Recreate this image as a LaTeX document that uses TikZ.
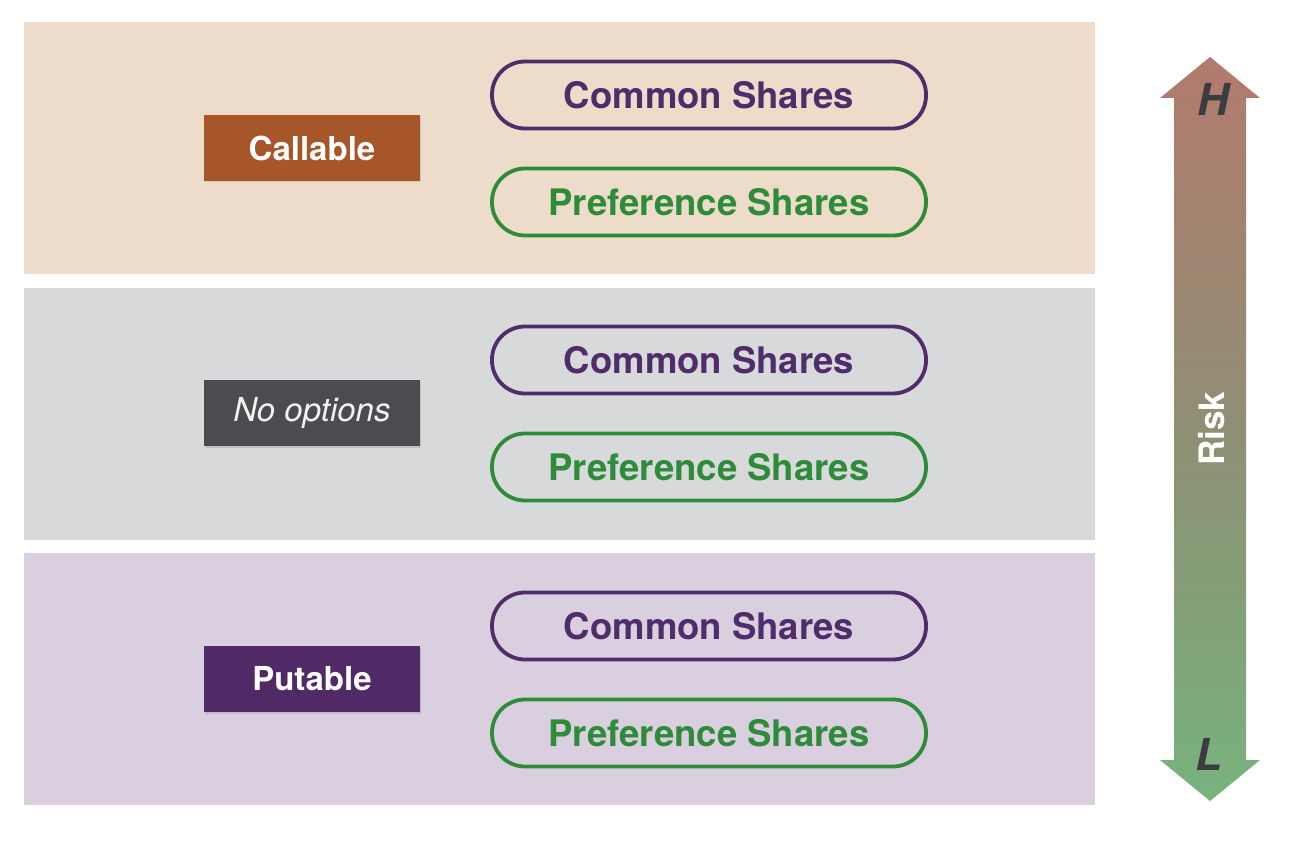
\documentclass[tikz,border=0pt]{standalone}
\usepackage{fontspec}
\setmainfont{TeX Gyre Heros}
\usetikzlibrary{shadows}
\definecolor{bandA}{HTML}{EEDCCB}
\definecolor{bandB}{HTML}{D8D9DA}
\definecolor{bandC}{HTML}{D9CFDF}
\definecolor{callc}{HTML}{A65628}
\definecolor{noc}{HTML}{4A4C50}
\definecolor{putc}{HTML}{4F2A66}
\definecolor{purp}{HTML}{4F2D6B}
\definecolor{grn}{HTML}{2E8B3A}
\definecolor{arrtop}{HTML}{B27A6D}
\definecolor{arrmid}{HTML}{8F8F74}
\definecolor{arrbot}{HTML}{77B37D}
\definecolor{letc}{HTML}{3A3C40}
\tikzset{
  band/.style={fill=#1, draw=none},
  labelbox/.style={fill=#1, draw=none, minimum width=216pt, minimum height=66pt,
    text=white, inner sep=0pt, drop shadow={opacity=0.25, shadow xshift=1pt, shadow yshift=-1.5pt}},
  pill/.style={draw=#1, line width=3.8pt, rounded corners=33pt, minimum width=434pt,
    minimum height=67pt, text=#1, inner sep=0pt, font=\fontsize{36.5}{42}\selectfont\bfseries},
}
\begin{document}
\begin{tikzpicture}[x=1pt,y=-1pt]
\useasboundingbox[fill=white] (0,0) rectangle (1290,842);
% bands
\fill[band=bandA] (24,22) rectangle (1095,274);
\fill[band=bandB] (24,288) rectangle (1095,540);
\fill[band=bandC] (24,553) rectangle (1095,805);
% labels
\node[labelbox=callc, font=\fontsize{33}{38}\selectfont\bfseries] (call) at (312,148) {Callable};
\node[labelbox=noc, text=white!90!gray, font=\fontsize{33}{38}\selectfont\itshape] (noopt) at (312,413) {No options};
\node[labelbox=putc, font=\fontsize{33}{38}\selectfont\bfseries] (put) at (312,679) {Putable};
% pills
\node[pill=purp] (c1) at (709,95) {Common Shares};
\node[pill=grn] (p1) at (709,202) {Preference Shares};
\node[pill=purp] (c2) at (709,360) {Common Shares};
\node[pill=grn] (p2) at (709,467) {Preference Shares};
\node[pill=purp] (c3) at (709,626) {Common Shares};
\node[pill=grn] (p3) at (709,733) {Preference Shares};
% risk arrow
\shade[top color=arrtop, bottom color=arrbot, middle color=arrmid]
  (1210,57) -- (1260,98) -- (1246,98) -- (1246,760) -- (1260,760) -- (1210,801)
  -- (1160,760) -- (1174,760) -- (1174,98) -- (1160,98) -- cycle;
\node[text=letc, font=\fontsize{44}{50}\selectfont\bfseries\itshape] (hi) at (1213,99) {H};
\node[text=letc, font=\fontsize{44}{50}\selectfont\bfseries\itshape] (lo) at (1209,754) {L};
\node[text=white, rotate=90, font=\fontsize{35}{40}\selectfont\bfseries] (risk) at (1212,429) {Risk};
\end{tikzpicture}
\end{document}
